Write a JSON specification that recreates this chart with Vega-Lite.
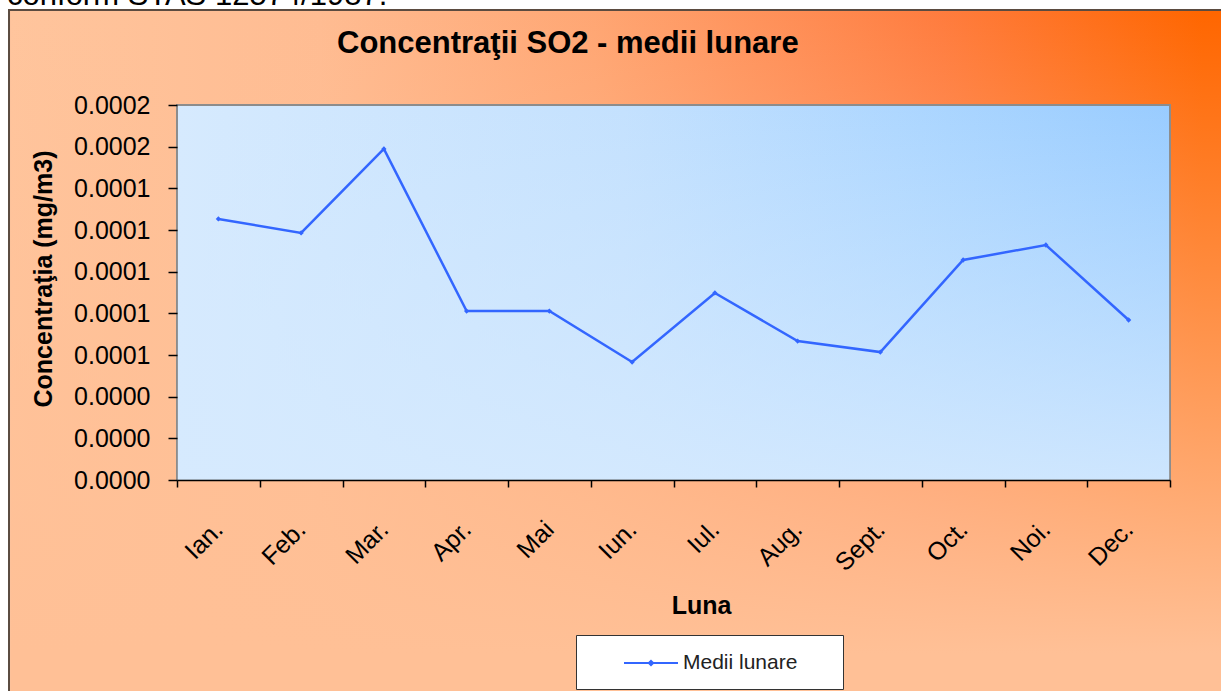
{
  "$schema": "https://vega.github.io/schema/vega-lite/v6.json",
  "width": 993,
  "height": 375,
  "autosize": {"type": "none"},
  "padding": {"left": 177, "top": 105, "right": 51, "bottom": 211},
  "background": "white",
  "title": {
    "text": "Concentraţii SO2 - medii lunare",
    "anchor": "start",
    "frame": "group",
    "dx": 160,
    "dy": 104,
    "offset": 0,
    "font": "Liberation Sans",
    "fontSize": 31,
    "fontWeight": "bold",
    "color": "black",
    "baseline": "alphabetic"
  },
  "config": {"view": {"stroke": null}, "axis": {"zindex": 1}},
  "layer": [
    {
      "data": {"values": [{}]},
      "mark": {
        "type": "rect",
        "stroke": "#5b4b40",
        "strokeWidth": 2,
        "fill": {
          "gradient": "linear", "x1": 0, "y1": 0, "x2": 1, "y2": 0,
          "stops": [
            {"offset": 0, "color": "#FFC59D"},
            {"offset": 0.25, "color": "#FFBC92"},
            {"offset": 0.47, "color": "#FFA673"},
            {"offset": 0.63, "color": "#FF8E56"},
            {"offset": 0.75, "color": "#FF7C3E"},
            {"offset": 0.96, "color": "#FF6600"},
            {"offset": 1, "color": "#FF6600"}
          ]
        }
      },
      "encoding": {
        "x": {"datum": -1.53, "type": "quantitative"},
        "x2": {"datum": 13.5},
        "y": {"datum": 0.0002256, "type": "quantitative"},
        "y2": {"datum": -0.00011}
      }
    },
    {
      "data": {"values": [{}]},
      "mark": {
        "type": "rect",
        "fill": {
          "gradient": "linear", "x1": 0, "y1": 0, "x2": 0, "y2": 1,
          "stops": [
            {"offset": 0, "color": "rgba(255,192,150,0)"},
            {"offset": 0.92, "color": "rgba(255,192,150,1)"},
            {"offset": 1, "color": "rgba(255,192,150,1)"}
          ]
        }
      },
      "encoding": {
        "x": {"datum": -1.51, "type": "quantitative"},
        "x2": {"datum": 13.5},
        "y": {"datum": 0.000225, "type": "quantitative"},
        "y2": {"datum": -0.00011}
      }
    },
    {
      "data": {"values": [{}]},
      "mark": {
        "type": "rect",
        "stroke": "#8C8C8C",
        "strokeWidth": 2,
        "fill": {
          "gradient": "linear", "x1": 0, "y1": 0, "x2": 1, "y2": 0,
          "stops": [
            {"offset": 0, "color": "#D6EAFE"},
            {"offset": 0.45, "color": "#C4E1FE"},
            {"offset": 0.75, "color": "#ACD6FF"},
            {"offset": 1, "color": "#99CCFF"}
          ]
        }
      },
      "encoding": {
        "x": {"datum": 0.5, "type": "quantitative"},
        "x2": {"datum": 12.5},
        "y": {"datum": 0.00018, "type": "quantitative"},
        "y2": {"datum": 0}
      }
    },
    {
      "data": {"values": [{}]},
      "mark": {
        "type": "rect",
        "fill": {
          "gradient": "linear", "x1": 0, "y1": 0, "x2": 0, "y2": 1,
          "stops": [
            {"offset": 0, "color": "rgba(214,234,254,0)"},
            {"offset": 1, "color": "rgba(214,234,254,0.85)"}
          ]
        }
      },
      "encoding": {
        "x": {"datum": 0.51, "type": "quantitative"},
        "x2": {"datum": 12.49},
        "y": {"datum": 0.000179, "type": "quantitative"},
        "y2": {"datum": 0}
      }
    },
    {
      "data": {
        "values": [
          {"nr": 1, "luna": "Ian.", "serie": "Medii lunare", "val": 0.0001253},
          {"nr": 2, "luna": "Feb.", "serie": "Medii lunare", "val": 0.0001186},
          {"nr": 3, "luna": "Mar.", "serie": "Medii lunare", "val": 0.0001589},
          {"nr": 4, "luna": "Apr.", "serie": "Medii lunare", "val": 0.0000811},
          {"nr": 5, "luna": "Mai", "serie": "Medii lunare", "val": 0.0000811},
          {"nr": 6, "luna": "Iun.", "serie": "Medii lunare", "val": 0.0000566},
          {"nr": 7, "luna": "Iul.", "serie": "Medii lunare", "val": 0.0000898},
          {"nr": 8, "luna": "Aug.", "serie": "Medii lunare", "val": 0.0000667},
          {"nr": 9, "luna": "Sept.", "serie": "Medii lunare", "val": 0.0000614},
          {"nr": 10, "luna": "Oct.", "serie": "Medii lunare", "val": 0.0001056},
          {"nr": 11, "luna": "Noi.", "serie": "Medii lunare", "val": 0.0001128},
          {"nr": 12, "luna": "Dec.", "serie": "Medii lunare", "val": 0.0000768}
        ]
      },
      "mark": {
        "type": "line",
        "strokeWidth": 2.5,
        "point": {"shape": "diamond", "size": 28, "filled": true}
      },
      "encoding": {
        "x": {
          "field": "nr",
          "type": "quantitative",
          "scale": {"domain": [0.5, 12.5], "nice": false, "zero": false},
          "axis": {
            "title": "Luna",
            "titleFont": "Liberation Sans",
            "titleFontSize": 25,
            "titleFontWeight": "bold",
            "titleColor": "black",
            "titleX": 524,
            "titleY": 133,
            "titleAlign": "center",
            "titleBaseline": "alphabetic",
            "values": [0.5, 1, 1.5, 2, 2.5, 3, 3.5, 4, 4.5, 5, 5.5, 6, 6.5, 7, 7.5, 8, 8.5, 9, 9.5, 10, 10.5, 11, 11.5, 12, 12.5],
            "labelExpr": "datum.value % 1 === 0 ? ['Ian.','Feb.','Mar.','Apr.','Mai','Iun.','Iul.','Aug.','Sept.','Oct.','Noi.','Dec.'][datum.value - 1] : ''",
            "labelAngle": -45,
            "labelAlign": "right",
            "labelBaseline": "middle",
            "labelPadding": 38,
            "labelFont": "Liberation Sans",
            "labelFontSize": 25,
            "labelColor": "black",
            "labelOverlap": false,
            "labelFlush": false,
            "labelBound": false,
            "tickSize": 7,
            "tickColor": "black",
            "tickWidth": 1.5,
            "tickOpacity": {"condition": {"test": "datum.value % 1 === 0", "value": 0}, "value": 1},
            "domainColor": "black",
            "domainWidth": 1.5,
            "grid": false,
            "zindex": 1
          }
        },
        "y": {
          "field": "val",
          "type": "quantitative",
          "scale": {"domain": [0, 0.00018], "nice": false, "zero": false},
          "axis": {
            "title": "Concentraţia (mg/m3)",
            "titleFont": "Liberation Sans",
            "titleFontSize": 25,
            "titleFontWeight": "bold",
            "titleColor": "black",
            "titleX": -134,
            "titleY": 173.5,
            "titleAngle": -90,
            "titleAlign": "center",
            "titleBaseline": "middle",
            "values": [0, 0.00002, 0.00004, 0.00006, 0.00008, 0.0001, 0.00012, 0.00014, 0.00016, 0.00018],
            "format": ".4f",
            "labelFont": "Liberation Sans",
            "labelFontSize": 25,
            "labelColor": "black",
            "labelPadding": 18,
            "labelFlush": false,
            "labelOverlap": false,
            "labelBaseline": "middle",
            "tickSize": 9,
            "tickColor": "black",
            "tickWidth": 1.5,
            "domain": false,
            "grid": false,
            "zindex": 1
          }
        },
        "color": {
          "field": "serie",
          "type": "nominal",
          "scale": {"range": ["#3366FF"]},
          "legend": {
            "title": null,
            "orient": "none",
            "legendX": 399,
            "legendY": 530,
            "fillColor": "white",
            "strokeColor": "#333333",
            "padding": 16,
            "symbolType": "M-2.5,0H2.5M0,-0.2L0.2,0L0,0.2L-0.2,0ZM15.9,0",
            "symbolSize": 466,
            "symbolStrokeWidth": 2,
            "symbolOffset": 47,
            "labelOffset": 20,
            "labelFont": "Liberation Sans",
            "labelFontSize": 21,
            "labelColor": "#222222"
          }
        }
      }
    },
    {
      "data": {"values": [{}]},
      "mark": {
        "type": "text",
        "text": "conform STAS 12574/1987.",
        "font": "Liberation Sans",
        "fontSize": 31,
        "align": "left",
        "baseline": "alphabetic",
        "color": "black"
      },
      "encoding": {
        "x": {"datum": -1.554, "type": "quantitative"},
        "y": {"datum": 0.000228, "type": "quantitative"}
      }
    }
  ]
}
